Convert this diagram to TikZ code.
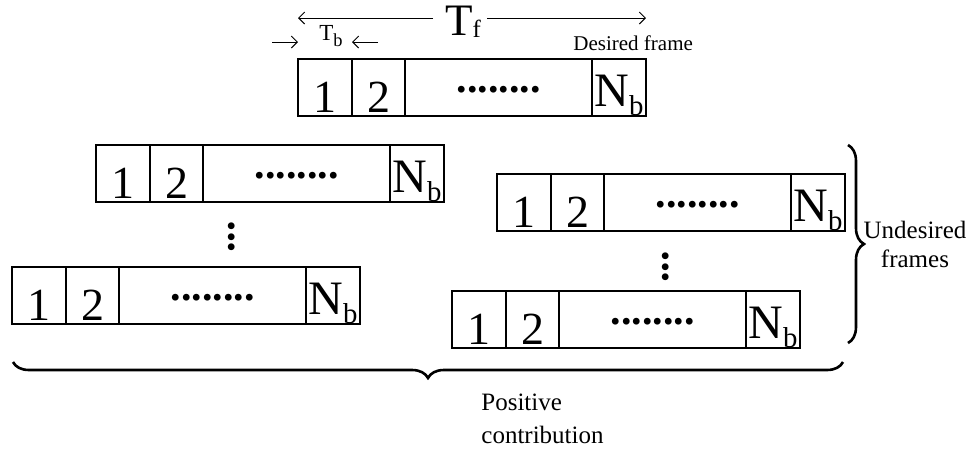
\documentclass[tikz,border=0pt]{standalone}
\usepackage{fontspec}
\setmainfont{Liberation Serif}
\usetikzlibrary{arrows.meta,positioning,decorations.pathreplacing}

% letter with a lowered, shrunk index: {base}{index}{scale}{drop}
\newcommand{\subidx}[4]{#1\raisebox{-#4}{\scalebox{#3}{#2}}}
% one frame of blocks 1, 2, ..., N_b; top left corner at #2
\newcommand{\bitframe}[2]{%
  \node[cell, anchor=north west] (#1-1) at (#2) {1};
  \node[cell, minimum width=26.5pt, right=of #1-1] (#1-2) {2};
  \node[dotcell, right=of #1-2] (#1-d) {........};
  \node[ncell, right=of #1-d] (#1-n) {\subidx{N}{b}{0.6}{0.19em}};
}

\begin{document}
\begin{tikzpicture}[
  x=0.5pt, y=-0.5pt,
  node distance=0pt,
  cell/.style={draw, line width=0.6pt, inner sep=0pt, outer sep=0pt,
    minimum width=27pt, minimum height=28.5pt,
    font=\fontsize{23}{23}\selectfont, text height=24.5pt, text depth=0pt},
  dotcell/.style={cell, minimum width=93.5pt,
    font=\fontsize{21}{21}\selectfont\bfseries, text height=5pt, text depth=0pt},
  ncell/.style={cell, font=\fontsize{24}{24}\selectfont, text height=23.5pt, text depth=5pt},
  vdots/.style={rotate=90, inner sep=0pt, font=\fontsize{21}{21}\selectfont\bfseries},
  dimarr/.style={-{Straight Barb[length=3pt,width=6pt]}, line width=0.5pt},
  brace/.style={decorate, decoration={brace, amplitude=8pt}, line width=1.3pt},
  note/.style={inner sep=0pt, font=\fontsize{12.5}{14.5}\selectfont}
]
  \useasboundingbox (0,0) rectangle (976,452);

  % desired frame
  \bitframe{des}{298,59}
  \draw[line width=1.4pt] (des-1.north west) rectangle (des-n.south east);
  \node[note, anchor=base west, font=\fontsize{10.5}{12}\selectfont] (deslbl) at (573,50) {Desired frame};

  % frame and block durations
  \node[inner sep=0pt, anchor=base, font=\fontsize{22.5}{24}\selectfont] (tf) at (463,35) {\subidx{T}{f}{0.55}{0.05em}};
  \coordinate (tfa) at (433,18);
  \coordinate (tfb) at (487,18);
  \draw[dimarr] (tfa) -- (des-1.north west |- tfa);
  \draw[dimarr] (tfb) -- (des-n.north east |- tfb);

  \node[inner sep=0pt, anchor=base, font=\fontsize{11.5}{13}\selectfont] (tb) at (331,40) {\subidx{T}{b}{0.8}{0.3em}};
  \coordinate (tba) at (272,42);
  \coordinate (tbb) at (378,42);
  \draw[dimarr] (tba) -- (des-1.north west |- tba);
  \draw[dimarr] (tbb) -- (des-1.north east |- tbb);

  % undesired frames
  \bitframe{ul}{96,145}
  \bitframe{ll}{12,267}
  \bitframe{ur}{497,174}
  \bitframe{lr}{452,291}
  \node[vdots] (vl) at (232,237) {...};
  \node[vdots] (vr) at (666,267) {...};

  % braces
  \coordinate (rbt) at (848,145);
  \coordinate (rbb) at (848,343);
  \draw[brace] (rbt) -- (rbb);
  \node[note, align=center, anchor=base, font=\fontsize{12.5}{14.5}\selectfont] (undes) at (915,267) {Undesired\\frames};

  \coordinate (bbl) at (13,362);
  \coordinate (bbr) at (843,362);
  \draw[brace, decoration={mirror}] (bbl) -- (bbr);
  \node[note, align=left, anchor=base west, font=\fontsize{12.5}{16.5}\selectfont] (pos) at (481,443) {Positive\\contribution};
\end{tikzpicture}
\end{document}
